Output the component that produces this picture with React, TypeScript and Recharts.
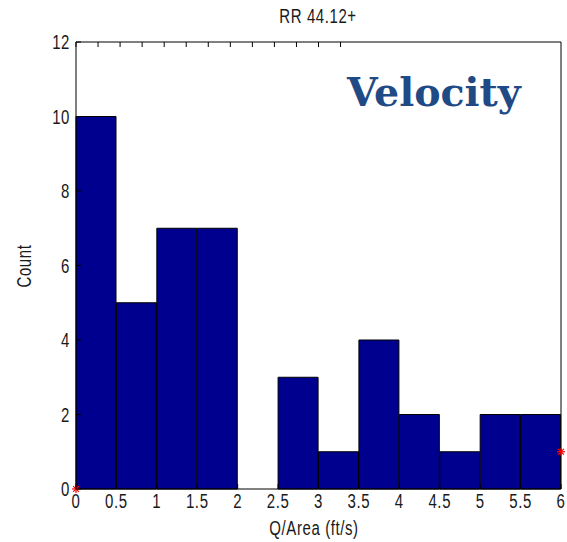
import React from 'react';
import { ComposedChart, Bar, Scatter, XAxis, YAxis } from 'recharts';

const binLabels = ['0-0.5', '0.5-1', '1-1.5', '1.5-2', '2-2.5', '2.5-3', '3-3.5', '3.5-4', '4-4.5', '4.5-5', '5-5.5', '5.5-6'];
const counts = [10, 5, 7, 7, 0, 3, 1, 4, 2, 1, 2, 2];
const xTicks = [0, 0.5, 1, 1.5, 2, 2.5, 3, 3.5, 4, 4.5, 5, 5.5, 6];
const yTicks = [0, 2, 4, 6, 8, 10, 12];
const markerX = [0, 6];
const markerY = [0, 1];

const bins = binLabels.map((bin, i) => ({ bin, count: counts[i] }));
const markers = markerX.map((x, i) => ({ x, y: markerY[i] }));

const FONT = "'Liberation Sans', Arial, sans-serif";
const INK = '#1a1a1a';
const TICK = 5;

// MATLAB's bitmap-ish axes font is tall and narrow, so stretch it a little
const Txt = ({ x, y, anchor = 'middle', rotate = 0, children }: any) => (
  <text
    transform={`translate(${x},${y}) rotate(${rotate}) scale(1,1.3)`}
    textAnchor={anchor}
    fontFamily={FONT}
    fontSize={15}
    letterSpacing={0.6}
    fill={INK}
  >
    {children}
  </text>
);

const BottomTick = ({ x, y, payload }: any) => (
  <g>
    <line x1={x} x2={x} y1={y} y2={y - TICK} stroke="#000" />
    <Txt x={x} y={y + 19}>{payload.value}</Txt>
  </g>
);

const TopTick = ({ x, y }: any) => <line x1={x} x2={x} y1={y} y2={y + TICK} stroke="#000" />;

const LeftTick = ({ x, y, payload }: any) => (
  <g>
    <line x1={x} x2={x + TICK} y1={y} y2={y} stroke="#000" />
    <Txt x={x - 6} y={y + 7} anchor="end">{payload.value}</Txt>
  </g>
);

const RightTick = ({ x, y }: any) => <line x1={x} x2={x - TICK} y1={y} y2={y} stroke="#000" />;

const Asterisk = ({ cx, cy }: any) => {
  const r = 4;
  const d = 2.9;
  return (
    <g stroke="#ff0000" strokeWidth={1.2}>
      <line x1={cx - r} x2={cx + r} y1={cy} y2={cy} />
      <line x1={cx} x2={cx} y1={cy - r} y2={cy + r} />
      <line x1={cx - d} x2={cx + d} y1={cy - d} y2={cy + d} />
      <line x1={cx - d} x2={cx + d} y1={cy + d} y2={cy - d} />
    </g>
  );
};

export default function App() {
  return (
    <div style={{ position: 'absolute', left: 0, top: 0, width: 567, height: 542, background: '#fff' }}>
      <ComposedChart
        width={567}
        height={542}
        data={bins}
        margin={{ top: 41, right: 5, bottom: 52, left: 75 }}
        barCategoryGap={0}
        barGap={0}
      >
        <XAxis xAxisId="cat" dataKey="bin" type="category" height={0} hide />
        <XAxis
          xAxisId="num"
          dataKey="x"
          type="number"
          domain={[0, 6]}
          ticks={xTicks}
          height={1}
          tickSize={0}
          tickMargin={0}
          stroke="#000"
          tick={<BottomTick />}
          interval={0}
        />
        <XAxis
          xAxisId="top"
          orientation="top"
          type="number"
          domain={[0, 6]}
          ticks={xTicks}
          height={1}
          tickSize={0}
          tickMargin={0}
          stroke="#000"
          tick={<TopTick />}
          interval={0}
        />
        <YAxis
          yAxisId="left"
          domain={[0, 12]}
          ticks={yTicks}
          width={1}
          tickSize={0}
          tickMargin={0}
          stroke="#000"
          tick={<LeftTick />}
          interval={0}
        />
        <YAxis
          yAxisId="right"
          orientation="right"
          domain={[0, 12]}
          ticks={yTicks}
          width={1}
          tickSize={0}
          tickMargin={0}
          stroke="#000"
          tick={<RightTick />}
          interval={0}
        />
        <Bar
          xAxisId="cat"
          yAxisId="left"
          dataKey="count"
          fill="#00008f"
          stroke="#000"
          strokeWidth={1}
          isAnimationActive={false}
        />
        <Scatter
          xAxisId="num"
          yAxisId="left"
          data={markers}
          dataKey="y"
          shape={<Asterisk />}
          isAnimationActive={false}
        />
        <Txt x={318} y={23}>RR 44.12+</Txt>
        <Txt x={314} y={535}>Q/Area (ft/s)</Txt>
        <Txt x={31} y={266} rotate={-90}>Count</Txt>
        <text x={347} y={106} fontFamily="'DejaVu Serif', Georgia, serif" fontWeight="bold" fontSize={39.5} fill="#1f4a85">
          Velocity
        </text>
      </ComposedChart>
    </div>
  );
}
